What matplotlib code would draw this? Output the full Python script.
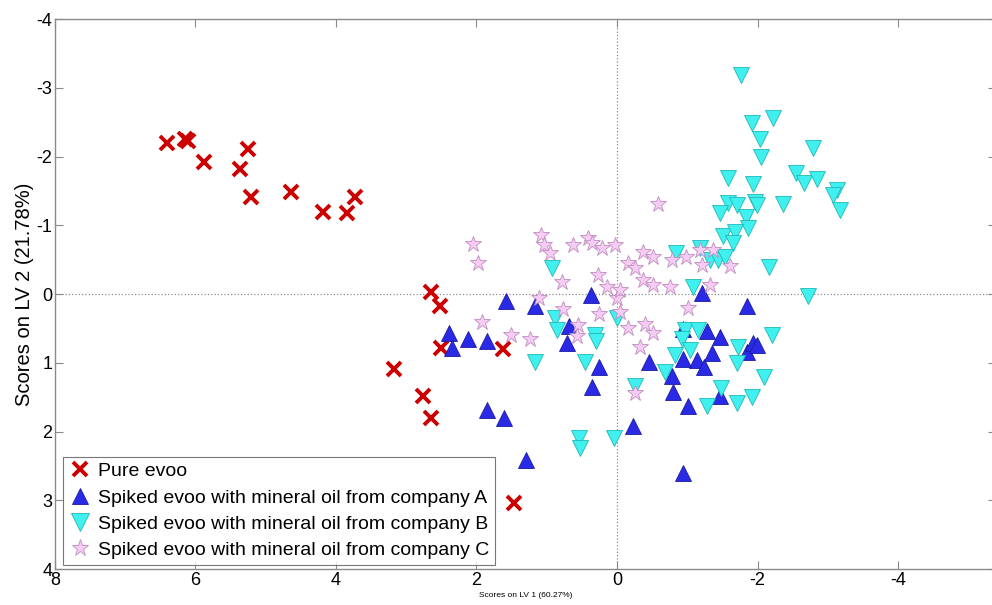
import matplotlib
matplotlib.use("Agg")
import matplotlib.pyplot as plt
import numpy as np

plt.rcParams["font.family"] = ["Liberation Sans", "DejaVu Sans"]

# PLS-DA scores (LV1 vs LV2) per sample class
pure_lv1 = [6.41, 6.15, 6.11, 5.88, 5.37, 5.25, 5.21, 4.64, 4.19, 3.84, 3.73,
            2.65, 2.52, 2.51, 1.62, 3.17, 2.76, 2.65, 1.47]
pure_lv2 = [-2.20, -2.25, -2.23, -1.92, -1.82, -2.11, -1.41, -1.48, -1.19, -1.18, -1.41,
            -0.03, 0.17, 0.79, 0.80, 1.09, 1.48, 1.80, 3.04]

comp_a_lv1 = [1.58, 1.17, 0.37, 2.39, 2.35, 2.12, 1.85, 0.68, 0.71, 0.26, 0.36,
              1.85, 1.61, 1.30, -0.23, -0.46, -1.21, -1.85, -0.94, -1.28, -1.47,
              -1.35, -1.14, -0.94, -1.24, -0.78, -0.80, -1.01, -1.47, -1.85, -1.94,
              -1.99, -0.94]
comp_a_lv2 = [0.10, 0.17, 0.01, 0.57, 0.79, 0.65, 0.68, 0.47, 0.71, 1.06, 1.35,
              1.69, 1.80, 2.41, 1.92, 0.99, -0.01, 0.17, 0.51, 0.54, 0.63,
              0.86, 0.96, 0.95, 1.06, 1.19, 1.43, 1.63, 1.48, 0.84, 0.71,
              0.74, 2.60]

comp_b_lv1 = [-1.77, -1.92, -2.22, -2.04, -2.05, -2.79, -1.58, -1.94, -2.55, -2.66,
              -2.85, -3.13, -3.07, -3.17, -1.58, -1.71, -1.96, -1.99, -2.36, -1.47,
              -1.84, -1.86, -1.51, -1.68, -1.65, -0.84, -1.18, -1.32, -1.44, -1.54,
              -2.16, -1.08, -2.72, 0.00, -0.97, -1.15, -0.93, -1.04, -0.83, -0.68,
              -1.72, -1.71, -2.21, -2.09, -1.92, -1.71, -1.48, -1.28, -0.26, 0.04,
              0.93, 0.88, 0.85, 0.31, 0.30, 1.17, 0.46, 0.54, 0.53]
comp_b_lv2 = [-3.19, -2.49, -2.56, -2.25, -1.99, -2.12, -1.69, -1.60, -1.76, -1.61,
              -1.67, -1.51, -1.44, -1.22, -1.32, -1.29, -1.34, -1.29, -1.31, -1.18,
              -1.12, -0.96, -0.84, -0.90, -0.74, -0.60, -0.67, -0.49, -0.49, -0.54,
              -0.39, -0.10, 0.03, 0.35, 0.52, 0.52, 0.65, 0.81, 0.89, 1.13,
              0.77, 1.00, 0.60, 1.21, 1.50, 1.59, 1.37, 1.63, 1.34, 2.09,
              -0.38, 0.35, 0.52, 0.60, 0.68, 0.99, 0.99, 2.09, 2.24]

comp_c_lv1 = [2.05, 1.98, 1.92, 1.51, 1.24, 1.11, 1.08, 1.04, 0.95, 0.78, 0.77,
              0.63, 0.56, 0.57, 0.41, 0.36, 0.27, 0.26, 0.21, 0.14, 0.03, 0.00,
              -0.04, -0.04, -0.16, -0.16, -0.26, -0.26, -0.33, -0.37, -0.37, -0.40,
              -0.51, -0.51, -0.51, -0.58, -0.75, -0.78, -0.98, -1.01, -1.18, -1.21,
              -1.32, -1.37, -1.61]
comp_c_lv2 = [-0.73, -0.45, 0.41, 0.60, 0.65, 0.06, -0.86, -0.71, -0.60, -0.17, 0.22,
              -0.71, 0.45, 0.61, -0.81, -0.74, -0.28, 0.29, -0.67, -0.10, -0.71, 0.06,
              0.26, -0.06, -0.45, 0.49, -0.38, 1.44, 0.77, -0.61, -0.20, 0.44,
              -0.54, -0.13, 0.57, -1.31, -0.10, -0.49, -0.54, 0.20, -0.64, -0.42,
              -0.13, -0.64, -0.41]

labels = ["Pure evoo",
          "Spiked evoo with mineral oil from company A",
          "Spiked evoo with mineral oil from company B",
          "Spiked evoo with mineral oil from company C"]

fig = plt.figure(figsize=(9.92, 6.05), dpi=100)
ax = fig.add_axes([0.0554, 0.0595, 0.949, 0.909])

ax.axhline(0, color="#8c8c8c", linestyle=":", linewidth=0.9, zorder=1)
ax.axvline(0, color="#8c8c8c", linestyle=":", linewidth=0.9, zorder=1)

ax.plot(pure_lv1, pure_lv2, linestyle="none", marker="x", markersize=10,
        markeredgewidth=2.8, color="#cc0000", label=labels[0], zorder=3)
ax.plot(comp_a_lv1, comp_a_lv2, linestyle="none", marker="^", markersize=11,
        markerfacecolor="#2a2ae6", markeredgecolor="#1a1aa0", markeredgewidth=0.6,
        label=labels[1], zorder=3)
ax.plot(comp_b_lv1, comp_b_lv2, linestyle="none", marker="v", markersize=12,
        markerfacecolor="#3ff0ee", markeredgecolor="#20b8b8", markeredgewidth=0.6,
        label=labels[2], zorder=3)
ax.plot(comp_c_lv1, comp_c_lv2, linestyle="none", marker="*", markersize=12,
        markerfacecolor="#f6ccf4", markeredgecolor="#c08cc0", markeredgewidth=0.6,
        label=labels[3], zorder=3)

# both axes run backwards, like the original score plot
ax.set_xlim(8, -5.4)
ax.set_ylim(4, -4)
ax.set_xticks(np.arange(8, -5, -2))
ax.set_yticks(np.arange(-4, 5, 1))
ax.set_xticklabels([f"{v:g}" for v in np.arange(8, -5, -2)])
ax.set_yticklabels([f"{v:g}" for v in np.arange(-4, 5, 1)])

for side in ("left", "bottom", "top", "right"):
    ax.spines[side].set_color("#8a8a8a")
    ax.spines[side].set_linewidth(1.0)
ax.tick_params(direction="in", length=6, width=0.8, color="#8a8a8a",
               labelsize=13, labelcolor="black", top=True, right=True, pad=2)

ax.set_ylabel("Scores on LV 2 (21.78%)", fontsize=14.5, labelpad=2)
ax.set_xlabel("Scores on LV 1 (60.27%)", fontsize=6, labelpad=2)

leg = ax.legend(loc="lower left", bbox_to_anchor=(0.0635, 0.066),
                bbox_transform=fig.transFigure, borderaxespad=0, fontsize=14,
                frameon=True, fancybox=False, handletextpad=0.3, handlelength=1.2,
                labelspacing=0.45, borderpad=0.3, markerscale=1.05)
leg.get_frame().set_edgecolor("#555555")
leg.get_frame().set_linewidth(0.8)

fig.savefig("out.png", dpi=100)
